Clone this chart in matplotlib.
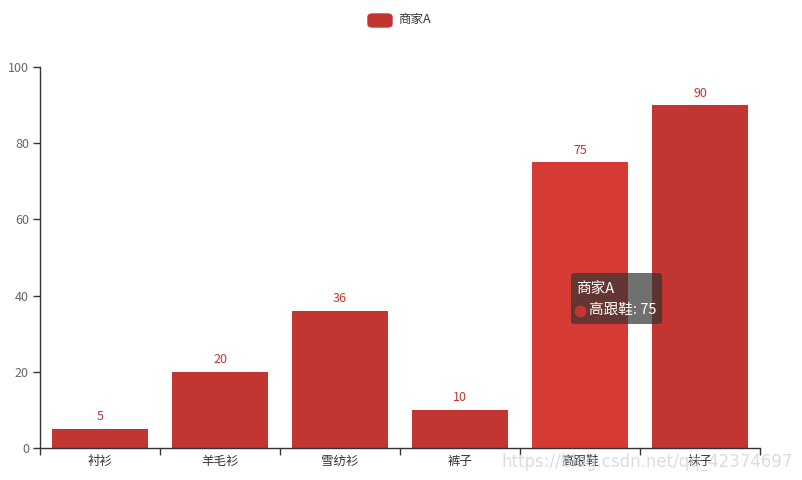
import matplotlib
matplotlib.use("Agg")
import matplotlib.pyplot as plt
from matplotlib.patches import FancyBboxPatch
from matplotlib.lines import Line2D

plt.rcParams['font.family'] = ['Noto Sans CJK SC', 'DejaVu Sans']

categories = ["衬衫", "羊毛衫", "雪纺衫", "裤子", "高跟鞋", "袜子"]
values = [5, 20, 36, 10, 75, 90]
series_name = "商家A"
highlight = 4
yticks = [0, 20, 40, 60, 80, 100]

W, H = 803, 480
fig = plt.figure(figsize=(W / 100, H / 100), dpi=100)
ax = fig.add_axes([40 / W, (H - 448) / H, 720 / W, (448 - 67) / H])

x = list(range(len(categories)))
colors = ["#c23531"] * len(categories)
colors[highlight] = "#d63a35"
bars = ax.bar(x, values, width=0.8, color=colors, zorder=2)
for xi, v in zip(x, values):
    ax.annotate(str(v), (xi, v), xytext=(0, 4), textcoords="offset points",
                ha="center", va="bottom", fontsize=9, color="#c23531")

ax.set_xlim(-0.5, len(categories) - 0.5)
ax.set_ylim(0, 100)
ax.set_yticks(yticks)
ax.set_yticklabels([str(t) for t in yticks])
ax.set_xticks(x)
ax.set_xticklabels(categories)
ax.set_xticks([i - 0.5 for i in range(len(categories) + 1)], minor=True)
ax.tick_params(axis="x", which="major", length=0, pad=5, labelsize=9, labelcolor="#333333")
ax.tick_params(axis="x", which="minor", length=5, width=1, color="#333333", direction="out")
ax.tick_params(axis="y", length=5, width=1, color="#333333", labelsize=9, labelcolor="#666666", pad=3)
for s in ["top", "right"]:
    ax.spines[s].set_visible(False)
for s in ["left", "bottom"]:
    ax.spines[s].set_color("#333333")
    ax.spines[s].set_linewidth(1)

# legend
fig.patches.append(FancyBboxPatch((368 / W, 1 - 27 / H), 24 / W, 13 / H,
                                  boxstyle="round,pad=0,rounding_size=0.006",
                                  transform=fig.transFigure, color="#c23531"))
fig.text(398 / W, 1 - 19.5 / H, series_name, fontsize=9, color="#333333", va="center", ha="left")

# tooltip
fig.patches.append(FancyBboxPatch((571 / W, 1 - 324 / H), 91 / W, 51 / H,
                                  boxstyle="round,pad=0,rounding_size=0.005",
                                  transform=fig.transFigure, facecolor=(0.2, 0.2, 0.2, 0.7),
                                  edgecolor="none", zorder=5))
fig.text(576 / W, 1 - 289 / H, series_name, fontsize=10.5, color="white", va="center", ha="left",
         zorder=6)
fig.add_artist(Line2D([580.5 / W], [1 - 310.5 / H], transform=fig.transFigure, marker="o",
                      markersize=7.5, color="#c23531", linestyle="none", zorder=6))
fig.text(589 / W, 1 - 310 / H, f"{categories[highlight]}: {values[highlight]}", fontsize=10.5,
         color="white", va="center", ha="left", zorder=6)

# watermark
fig.text(793 / W, 1 - 462 / H, "https://blog.csdn.net/qq_42374697", fontsize=12,
         color="#d4d4d4", alpha=0.8, ha="right", va="center", zorder=7,
         family=["DejaVu Sans"])

fig.savefig("out.png", dpi=100)
